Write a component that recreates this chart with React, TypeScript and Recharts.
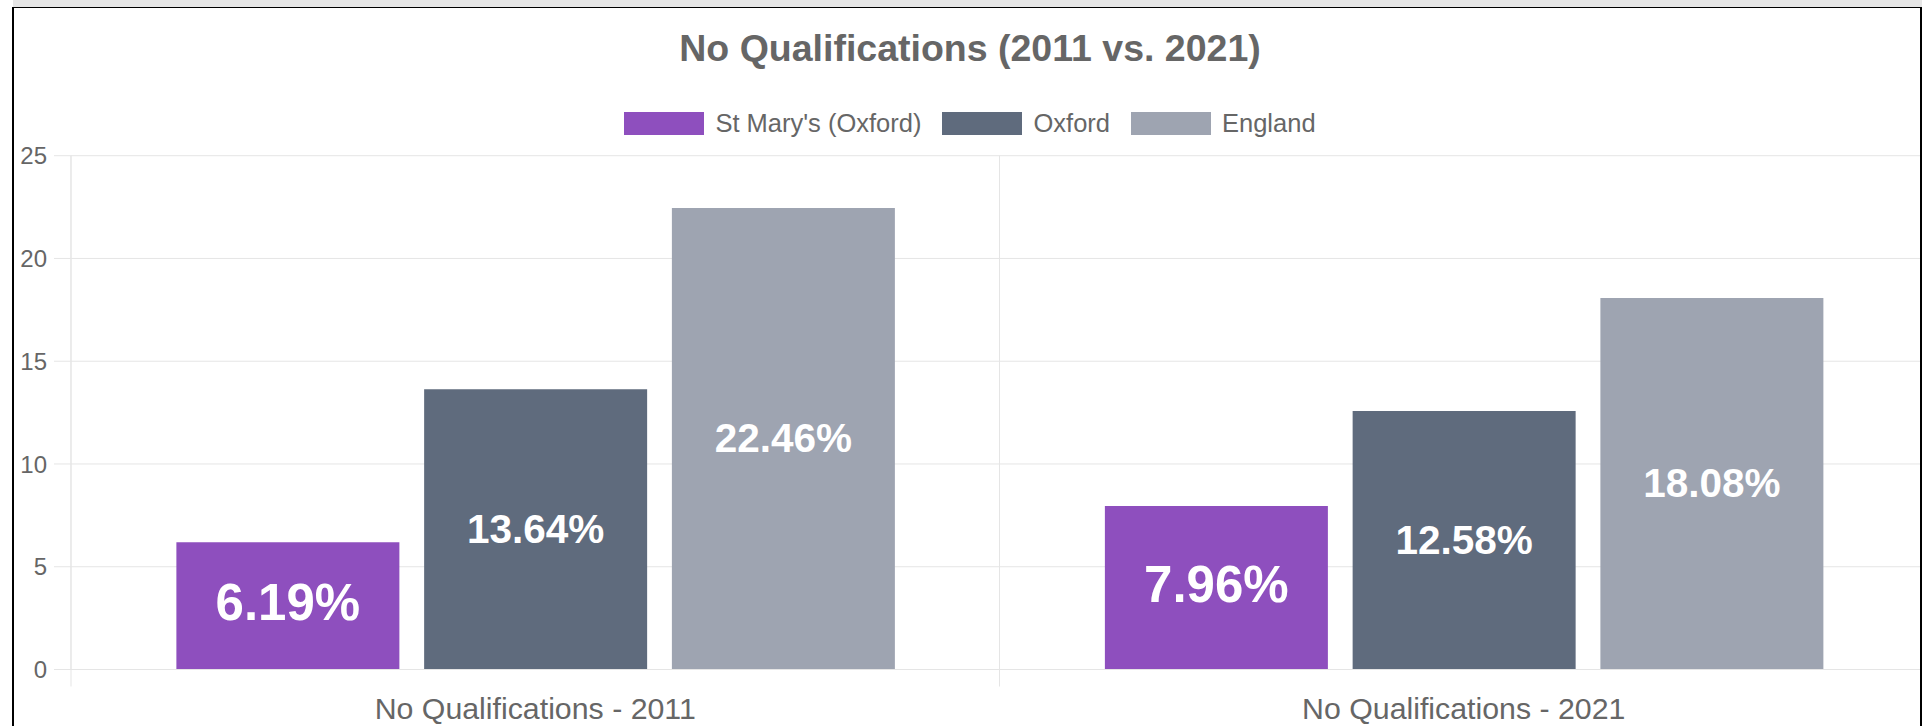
import React from 'react';
import { BarChart, Bar, XAxis, YAxis, CartesianGrid, LabelList } from 'recharts';

const chartTitle = 'No Qualifications (2011 vs. 2021)';
const categories = ['No Qualifications - 2011', 'No Qualifications - 2021'];
const stMarysValues = [6.19, 7.96];
const oxfordValues = [13.64, 12.58];
const englandValues = [22.46, 18.08];
const yTicks = [0, 5, 10, 15, 20, 25];
const seriesKeys = ['stMarys', 'oxford', 'england'];
const seriesNames = ["St Mary's (Oxford)", 'Oxford', 'England'];
const seriesColors = ['#8e4fbe', '#5f6b7d', '#9ea4b1'];
const labelSizes = [51, 40.5, 40.5];
const labelShift = [-4, -1, -1];

const FONT = '"Liberation Sans", Arial, Helvetica, sans-serif';
const GRID = '#e5e5e5';
const TEXT = '#666666';

const data = categories.map((category, i) => ({
  category,
  stMarys: stMarysValues[i],
  oxford: oxfordValues[i],
  england: englandValues[i],
}));

const XTick = (props: any) => {
  const { x, y, payload, width, visibleTicksCount, index } = props;
  const count = visibleTicksCount || categories.length;
  const half = typeof width === 'number' ? width / count / 2 : NaN;
  const lines: number[] = [];
  if (!Number.isNaN(half)) {
    lines.push(x - half);
    if (index === count - 1) lines.push(x + half);
  }
  return (
    <g>
      {lines.map((lx, i) => (
        <line key={i} x1={lx} x2={lx} y1={y} y2={y + 17} stroke={GRID} strokeWidth={1} />
      ))}
      <text
        x={x}
        y={y + 28}
        dy="0.71em"
        textAnchor="middle"
        fill={TEXT}
        fontSize={30.3}
        fontFamily={FONT}
      >
        {payload.value}
      </text>
    </g>
  );
};

export default function App() {
  return (
    <div
      style={{
        position: 'absolute',
        left: 0,
        top: 0,
        width: 1922,
        height: 726,
        overflow: 'hidden',
        background: '#ffffff',
        fontFamily: FONT,
      }}
    >
      <div style={{ position: 'absolute', left: 0, top: 0 }}>
        <BarChart
          width={1928}
          height={726}
          data={data}
          margin={{ top: 155.7, right: 0, bottom: 0, left: 0 }}
          barCategoryGap="11.35%"
          barGap={24.75}
        >
          <CartesianGrid
            stroke={GRID}
            verticalCoordinatesGenerator={({ offset }: any) =>
              Array.from(
                { length: categories.length + 1 },
                (_, i) => offset.left + (offset.width * i) / categories.length
              )
            }
          />
          <XAxis
            dataKey="category"
            interval={0}
            height={56.5}
            tickSize={0}
            tickMargin={0}
            tickLine={false}
            axisLine={{ stroke: GRID }}
            tick={<XTick />}
          />
          <YAxis
            width={71}
            domain={[0, 25]}
            ticks={yTicks}
            interval={0}
            tickSize={17}
            tickMargin={7}
            axisLine={{ stroke: GRID }}
            tickLine={{ stroke: GRID }}
            tick={{ fill: TEXT, fontSize: 24, fontFamily: FONT }}
          />
          {seriesKeys.map((key, si) => (
            <Bar
              key={key}
              dataKey={key}
              name={seriesNames[si]}
              fill={seriesColors[si]}
              isAnimationActive={false}
            >
              <LabelList
                dataKey={key}
                position="center"
                fill="#ffffff"
                fontSize={labelSizes[si]}
                fontWeight="bold"
                fontFamily={FONT}
                dy={labelShift[si]}
                formatter={(v: any) => `${Number(v).toFixed(2)}%`}
              />
            </Bar>
          ))}
        </BarChart>
      </div>

      {/* title */}
      <div
        style={{
          position: 'absolute',
          left: 12,
          width: 1916,
          top: 30,
          textAlign: 'center',
          fontSize: 37.5,
          lineHeight: '37px',
          fontWeight: 'bold',
          color: TEXT,
          whiteSpace: 'nowrap',
        }}
      >
        {chartTitle}
      </div>

      {/* legend */}
      <div
        style={{
          position: 'absolute',
          left: 12,
          width: 1916,
          top: 111.7,
          height: 23,
          display: 'flex',
          justifyContent: 'center',
          alignItems: 'center',
        }}
      >
        {seriesNames.map((name, i) => (
          <div
            key={name}
            style={{
              display: 'flex',
              alignItems: 'center',
              marginLeft: i === 0 ? 0 : 21,
            }}
          >
            <div
              style={{
                width: 80,
                height: 23,
                background: seriesColors[i],
                marginRight: 11,
              }}
            />
            <span
              style={{
                fontSize: 25.5,
                lineHeight: '23px',
                color: TEXT,
                whiteSpace: 'nowrap',
              }}
            >
              {name}
            </span>
          </div>
        ))}
      </div>

      {/* frame */}
      <div style={{ position: 'absolute', left: 13, top: 0, width: 1909, height: 7, background: '#e6e6e6' }} />
      <div style={{ position: 'absolute', left: 12, top: 7, width: 1910, height: 1, background: '#000' }} />
      <div style={{ position: 'absolute', left: 12, top: 7, width: 2, height: 719, background: '#000' }} />
      <div style={{ position: 'absolute', left: 1920, top: 7, width: 2, height: 719, background: '#000' }} />
    </div>
  );
}
